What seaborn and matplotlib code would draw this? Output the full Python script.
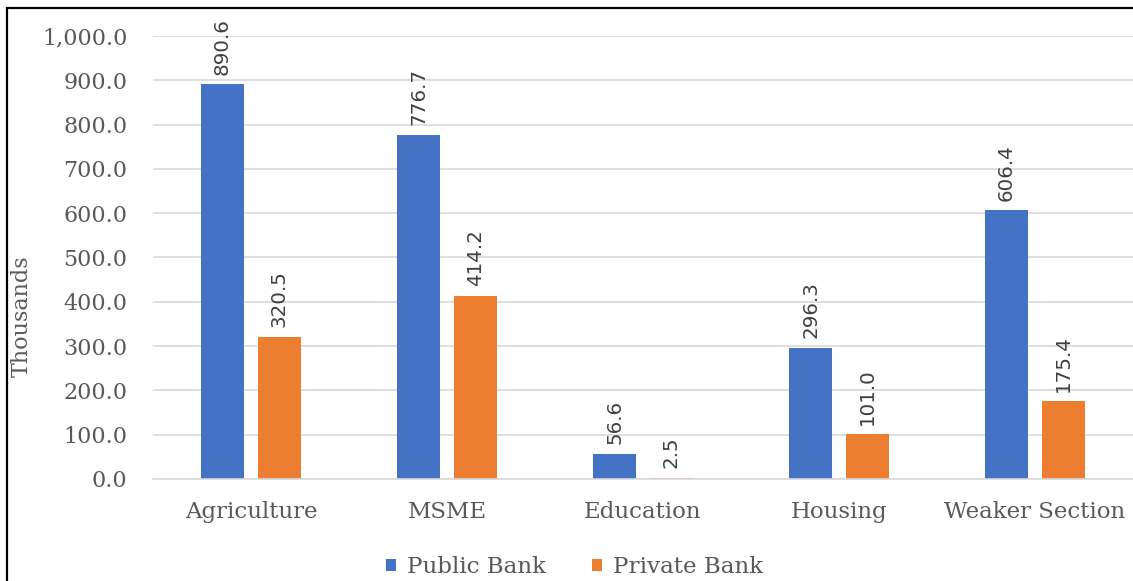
import matplotlib
matplotlib.use("Agg")
import matplotlib.pyplot as plt
from matplotlib.ticker import FuncFormatter
from matplotlib.patches import Rectangle
import seaborn as sns
import pandas as pd

categories = ["Agriculture", "MSME", "Education", "Housing", "Weaker Section"]
public_bank = [890.6, 776.7, 56.6, 296.3, 606.4]
private_bank = [320.5, 414.2, 2.5, 101.0, 175.4]
series_names = ["Public Bank", "Private Bank"]
y_ticks = [0, 100, 200, 300, 400, 500, 600, 700, 800, 900, 1000]

df = pd.DataFrame({
    "Sector": categories * 2,
    "Bank": [series_names[0]] * len(categories) + [series_names[1]] * len(categories),
    "Value": public_bank + private_bank,
})

sns.set_theme(style="white")
plt.rcParams["font.family"] = ["DejaVu Serif"]

fig = plt.figure(figsize=(11.33, 5.81), dpi=100)
ax = fig.add_axes([0.135, 0.1756, 0.865, 0.7624])

palette = {"Public Bank": "#4472C4", "Private Bank": "#ED7D31"}
sns.barplot(data=df, x="Sector", y="Value", hue="Bank", order=categories,
            hue_order=series_names, palette=palette, width=0.58, gap=0.245,
            saturation=1, ax=ax, legend=True, edgecolor="none")

ax.set_ylim(0, 1000)
ax.set_xlim(-0.5, len(categories) - 0.5)
ax.set_yticks(y_ticks)
ax.yaxis.set_major_formatter(FuncFormatter(lambda v, p: f"{v:,.1f}"))
ax.grid(axis="y", color="#d9d9d9", linewidth=1.2)
ax.set_axisbelow(True)
for side in ["top", "right", "left"]:
    ax.spines[side].set_visible(False)
ax.spines["bottom"].set_color("#d9d9d9")
ax.spines["bottom"].set_linewidth(1.2)
ax.tick_params(axis="both", length=0, colors="#595959", labelsize=16)
ax.tick_params(axis="x", pad=16, labelsize=16.5)
ax.tick_params(axis="y", pad=18.5)
ax.set_xlabel("")
ax.set_ylabel("")
fig.text(22 / 1133, 1 - 316 / 581, "Thousands", rotation=90, ha="center",
         va="center", fontsize=16, color="#595959")

for container in ax.containers:
    ax.bar_label(container, fmt="%.1f", rotation=90, padding=7,
                 fontsize=14.3, color="#404040", family=["DejaVu Sans"])

leg = ax.legend(loc="center", bbox_to_anchor=(0.43, -0.199), ncol=2,
                frameon=False, fontsize=16.6, handlelength=0.45,
                handleheight=0.45, handletextpad=0.45, columnspacing=2.0)
for t in leg.get_texts():
    t.set_color("#595959")

fig.patches.append(Rectangle((7 / 1133, -0.1), 1.2, 1 - 8 / 581 + 0.1,
                             transform=fig.transFigure, fill=False,
                             edgecolor="black", linewidth=1.6))

fig.savefig("out.png", dpi=100)
